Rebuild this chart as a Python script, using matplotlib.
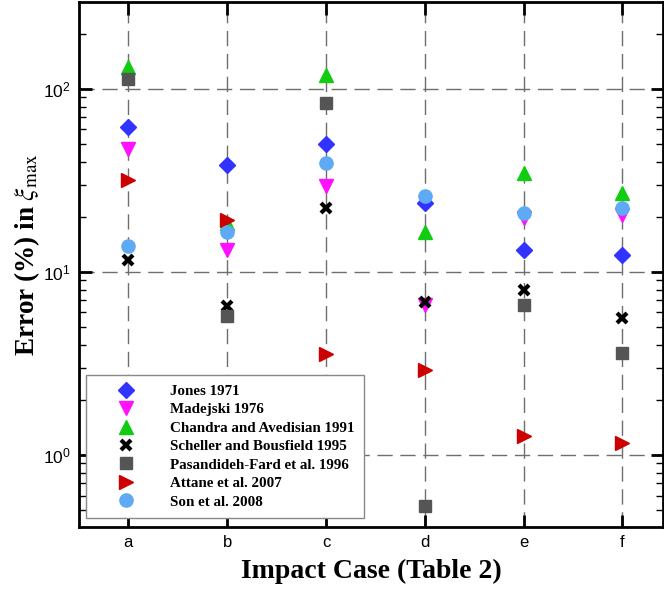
import matplotlib
matplotlib.use("Agg")
import matplotlib.pyplot as plt
from matplotlib.ticker import LogLocator, NullFormatter, FixedLocator

plt.rcParams["mathtext.fontset"] = "stix"

cases = ["a", "b", "c", "d", "e", "f"]

jones = [62, 38.4, 50, 23.8, 13.2, 12.4]
madejski = [47, 13.2, 29.5, 6.6, 19.7, 20.5]
chandra = [132, 18.5, 119, 16.5, 34.8, 27.0]
scheller = [11.6, 6.5, 22.4, 6.86, 7.97, 5.6]
pasandideh = [113, 5.75, 83.8, 0.526, 6.6, 3.61]
attane = [31.8, 19.2, 3.56, 2.91, 1.27, 1.16]
son = [13.9, 16.5, 39.4, 26.0, 21.0, 22.4]

series = [
    ("Jones 1971", jones, dict(marker="D", color="#3333ff", ms=8)),
    ("Madejski 1976", madejski, dict(marker="v", color="#ff11ff", ms=9.5)),
    ("Chandra and Avedisian 1991", chandra, dict(marker="^", color="#11cc11", ms=9.5)),
    ("Scheller and Bousfield 1995", scheller, dict(marker="x", color="black", ms=6.5, mew=3)),
    ("Pasandideh-Fard et al. 1996", pasandideh, dict(marker="s", color="#555555", ms=8.3)),
    ("Attane et al. 2007", attane, dict(marker=">", color="#cc0000", ms=9.5)),
    ("Son et al. 2008", son, dict(marker="o", color="#5eaaf5", ms=9.5)),
]

fig = plt.figure(figsize=(6.64, 5.9), dpi=100)
ax = fig.add_axes([79 / 664, 63 / 590, 584 / 664, 525 / 590])

xs = list(range(len(cases)))
for label, vals, style in series:
    ax.plot(xs, vals, linestyle="none", label=label, **style)

ax.set_yscale("log")
ax.set_ylim(0.404, 298)
ax.set_xlim(-0.5, 5.41)
ax.set_xticks(xs)
ax.set_xticklabels(cases, fontsize=12, family="Liberation Sans")
ax.yaxis.set_major_locator(FixedLocator([1, 10, 100]))
ax.yaxis.set_minor_locator(LogLocator(base=10, subs=range(2, 10)))
ax.yaxis.set_minor_formatter(NullFormatter())
for t in ax.get_yticklabels():
    t.set_fontsize(12.5)
    t.set_family("Liberation Sans")

ax.tick_params(which="major", direction="in", length=9, width=2,
               top=True, right=True, pad=6)
ax.tick_params(which="minor", direction="in", length=5, width=1,
               top=False, right=True)
for s in ax.spines.values():
    s.set_linewidth(2)

ax.grid(True, which="major", color="#6e6e6e", linestyle=(0, (11, 5.5)), linewidth=1)
ax.set_axisbelow(True)

ax.set_xlabel("Impact Case (Table 2)", fontsize=20, fontweight="bold",
              family="Liberation Serif", labelpad=6)
ax.set_ylabel(r"Error (%) in $\xi_{\mathrm{max}}$", fontsize=19.5, fontweight="bold",
              family="Liberation Serif")
ax.yaxis.set_label_coords(-0.063, 0.518)

leg = ax.legend(loc="lower left", bbox_to_anchor=(0.012, 0.018), borderaxespad=0,
                frameon=True, fancybox=False, edgecolor="#888888", framealpha=1,
                prop=dict(family="Liberation Serif", weight="bold", size=10.8),
                handletextpad=0.93, borderpad=0.6, labelspacing=0.33,
                handlelength=4.1, numpoints=1)
leg.get_frame().set_linewidth(1)

fig.savefig("out.png", dpi=100)
